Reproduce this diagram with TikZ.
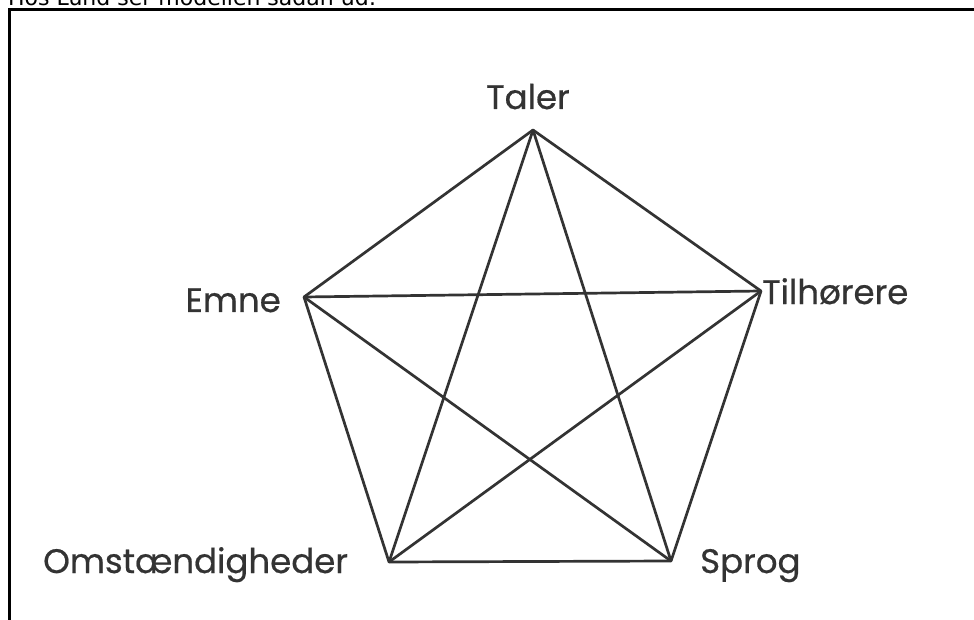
\documentclass[tikz,border=0pt]{standalone}
\usepackage{fontspec}
\setmainfont{Poppins}
\newfontfamily\lblfont{Poppins}[FakeBold=0.6]
\newfontfamily\capfont{DejaVu Sans}
\definecolor{ink}{HTML}{333333}
\begin{document}
\begin{tikzpicture}[x=1pt,y=-1pt,
  edge/.style={draw=ink,line width=2.7pt,line join=round},
  lbl/.style={inner sep=0pt,text=ink,font=\lblfont\fontsize{34}{34}\selectfont}]
\useasboundingbox (0,0) rectangle (974,620);
\clip (0,0) rectangle (974,620);
\fill[white] (0,0) rectangle (974,620);
% caption (cut off at the top, as in the reference)
\node[anchor=base west,inner sep=0pt,font=\capfont\fontsize{22}{22}\selectfont] (cap) at (8,6) {Hos Lund ser modellen sådan ud:};
% frame
\draw[line width=3pt] (9.5,640) -- (9.5,9.5) -- (990,9.5);
% vertices
\coordinate (T) at (533,130);
\coordinate (E) at (304,297);
\coordinate (H) at (761,291);
\coordinate (O) at (389,562);
\coordinate (S) at (671,561);
% pentagon
\draw[edge] (T) -- (E) -- (O) -- (S) -- (H) -- cycle;
% star
\draw[edge] (T) -- (O);
\draw[edge] (T) -- (S);
\draw[edge] (E) -- (H);
\draw[edge] (E) -- (S);
\draw[edge] (H) -- (O);
% labels
\node[lbl,anchor=base] (lT) at (528,109) {Taler};
\node[lbl,anchor=base east] (lE) at (281,312) {Emne};
\node[lbl,anchor=base west] (lH) at (762,304) {Tilhørere};
\node[lbl,anchor=base west] (lO) at (43,573) {Omstændigheder};
\node[lbl,anchor=base west] (lS) at (700,573) {Sprog};
\end{tikzpicture}
\end{document}
